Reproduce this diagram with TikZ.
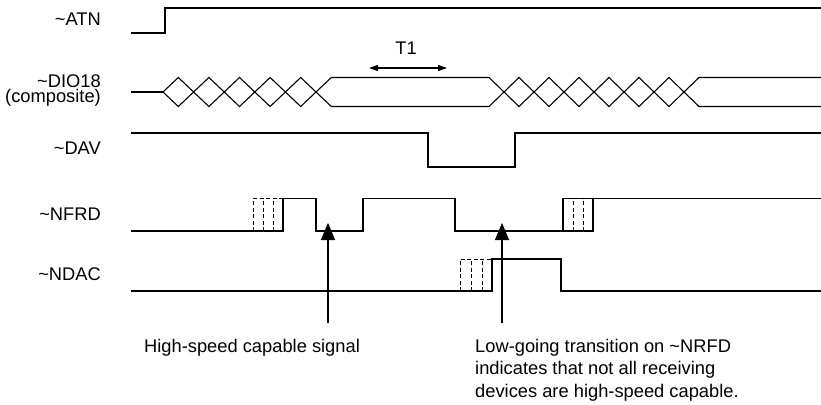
\documentclass[tikz,border=0pt]{standalone}
\usepackage{fontspec}
\setmainfont{Liberation Sans}
\usetikzlibrary{arrows.meta}
\begin{document}
\begin{tikzpicture}[x=1pt,y=-1pt,
  wave/.style={line width=1.1pt, line join=miter},
  ghost/.style={line width=1pt, dash pattern=on 4pt off 2.5pt},
  lbl/.style={anchor=base east, inner sep=0pt, font=\fontsize{18.3}{15}\selectfont, align=right},
  note/.style={anchor=base west, inner sep=0pt, font=\fontsize{18.3}{22.5}\selectfont, align=left},
  pointer/.style={line width=1.1pt, -{Triangle[length=17pt,width=14pt]}},
  span/.style={line width=1.1pt, {Triangle[length=9pt,width=6pt]}-{Triangle[length=9pt,width=6pt]}}]
\useasboundingbox (0,0) rectangle (821,404);

% signal labels
\node[lbl] (atn) at (101,26) {\textasciitilde ATN};
\node[lbl] (dio) at (101,102) {\textasciitilde DIO18\\(composite)};
\node[lbl] (dav) at (101,154) {\textasciitilde DAV};
\node[lbl] (nfrd) at (101,220) {\textasciitilde NFRD};
\node[lbl] (ndac) at (101,280) {\textasciitilde NDAC};

% ~ATN
\draw[wave] (131,33) -- (165,33) -- (165,8) -- (821,8);

% ~DIO18
\draw[wave] (131,92) -- (163,92);
\draw[wave] (163,92) -- (178.3,77.5) -- (208.9,106.5) -- (239.5,77.5) -- (270.1,106.5) -- (300.7,77.5) -- (331.3,106.5)
  -- (489,106.5) -- (519,77.5) -- (549,106.5) -- (579,77.5) -- (609,106.5) -- (639,77.5) -- (669,106.5) -- (699,77.5) -- (821,77.5);
\draw[wave] (163,92) -- (178.3,106.5) -- (208.9,77.5) -- (239.5,106.5) -- (270.1,77.5) -- (300.7,106.5) -- (331.3,77.5)
  -- (489,77.5) -- (519,106.5) -- (549,77.5) -- (579,106.5) -- (609,77.5) -- (639,106.5) -- (669,77.5) -- (699,106.5) -- (821,106.5);

% ~DAV
\draw[wave] (131,133) -- (428,133) -- (428,167) -- (515,167) -- (515,133) -- (821,133);

% ~NFRD
\draw[wave] (131,231) -- (283,231) -- (283,198.5) -- (316,198.5) -- (316,231) -- (363,231) -- (363,198.5)
  -- (455,198.5) -- (455,231) -- (563,231) -- (563,198.5) -- (821,198.5);
\draw[wave] (563,231) -- (593,231) -- (593,198.5);
\draw[ghost] (253,231) -- (253,198.5) -- (283,198.5);
\draw[ghost] (263,231) -- (263,198.5);
\draw[ghost] (273,231) -- (273,198.5);
\draw[ghost] (573,231) -- (573,198.5);
\draw[ghost] (583,231) -- (583,198.5);

% ~NDAC
\draw[wave] (131,291) -- (492,291) -- (492,259) -- (561,259) -- (561,291) -- (821,291);
\draw[ghost] (460,291) -- (460,259) -- (492,259);
\draw[ghost] (471,291) -- (471,259);
\draw[ghost] (482,291) -- (482,259);

% T1
\coordinate (t1l) at (369,68);
\coordinate (t1r) at (447,68);
\draw[span] (t1l) -- (t1r);
\node[anchor=base, inner sep=0pt, font=\fontsize{18.3}{22}\selectfont] (t1) at (406,55) {T1};

% pointers
\coordinate (p1tail) at (328,323);
\coordinate (p1head) at (328,223);
\coordinate (p2tail) at (502,323);
\coordinate (p2head) at (502,223);
\draw[pointer] (p1tail) -- (p1head);
\draw[pointer] (p2tail) -- (p2head);

% notes
\node[note] (n1) at (144,352.5) {High-speed capable signal};
\node[note] (n2) at (475,397) {Low-going transition on \textasciitilde NRFD\\indicates that not all receiving\\devices are high-speed capable.};
\end{tikzpicture}
\end{document}
